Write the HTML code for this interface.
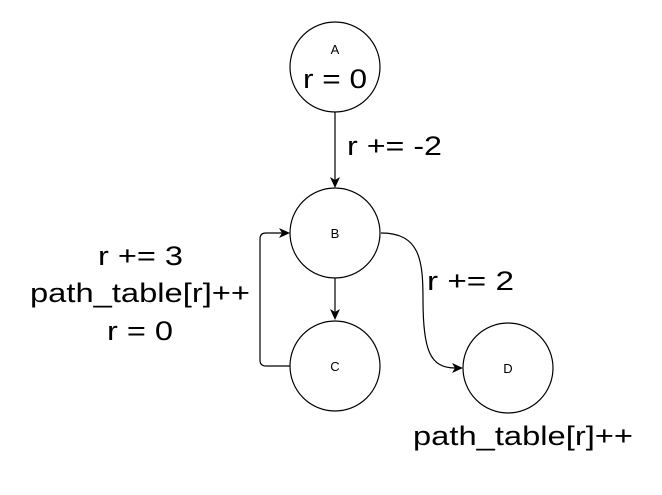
<!DOCTYPE html>
<html><head><style>body{margin:0;background:#fff}</style></head><body>
<svg width="662" height="490" xmlns="http://www.w3.org/2000/svg" font-family="Liberation Sans, Arial, sans-serif">
<rect width="662" height="490" fill="#fff"/>
<g fill="#fff" stroke="#000" stroke-width="1.2">
<circle cx="335" cy="67" r="45"/>
<circle cx="335" cy="233" r="45"/>
<circle cx="335" cy="366" r="45"/>
<circle cx="508" cy="368" r="45"/>
</g>
<g fill="none" stroke="#000" stroke-width="1.2">
<path d="M335 112 V180"/>
<path d="M335 278 V312"/>
<path d="M290 366 H266 Q260 366 260 360 V239 Q260 233 266 233 H282"/>
<path d="M381 233 C420 233 423 260 423 300 C423 350 430 368 455 368"/>
</g>
<g fill="#000">
<path d="M335 188 L330 177 L335 180 L340 177 Z"/>
<path d="M335 320 L330 309 L335 312 L340 309 Z"/>
<path d="M290 233 L279 228 L282 233 L279 238 Z"/>
<path d="M463 368 L452 363 L455 368 L452 373 Z"/>
</g>
<g font-size="13" text-anchor="middle">
<text x="335" y="54">A</text>
<text x="335" y="238">B</text>
<text x="335" y="371">C</text>
<text x="508" y="373">D</text>
</g>
<g font-size="27">
<text x="303" y="88" textLength="64" lengthAdjust="spacingAndGlyphs">r = 0</text>
<text x="347" y="155" textLength="95" lengthAdjust="spacingAndGlyphs">r += -2</text>
<text x="427" y="290" textLength="87" lengthAdjust="spacingAndGlyphs">r += 2</text>
<text x="98" y="265" textLength="85" lengthAdjust="spacingAndGlyphs">r += 3</text>
<text x="30" y="302" textLength="220" lengthAdjust="spacingAndGlyphs">path_table[r]++</text>
<text x="107" y="340" textLength="66" lengthAdjust="spacingAndGlyphs">r = 0</text>
<text x="413" y="445" textLength="220" lengthAdjust="spacingAndGlyphs">path_table[r]++</text>
</g>
</svg>
</body></html>
